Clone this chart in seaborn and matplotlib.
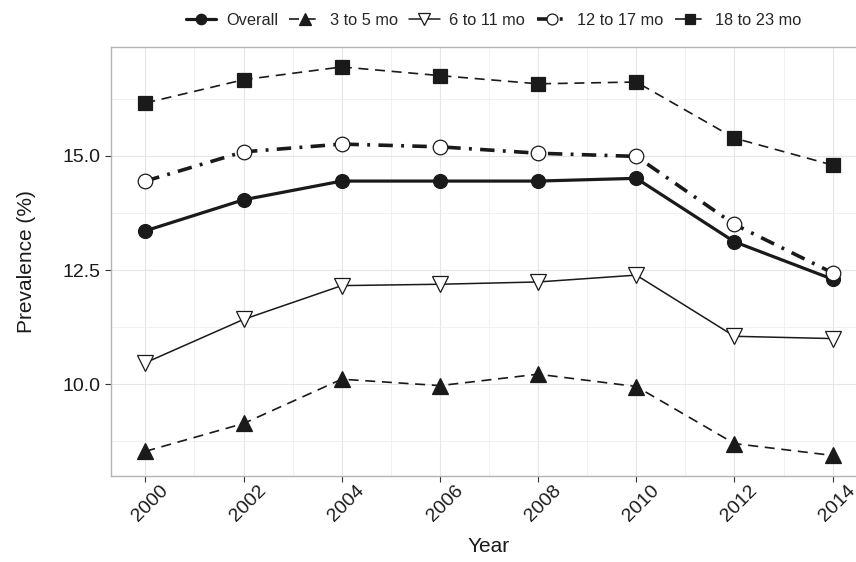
import numpy as np
import pandas as pd
import matplotlib
matplotlib.use("Agg")
import matplotlib.pyplot as plt
import matplotlib.transforms as mtransforms
import seaborn as sns

# ── data ─────────────────────────────────────────────────────
years = [2000, 2002, 2004, 2006, 2008, 2010, 2012, 2014]
overall  = [13.36, 14.04, 14.45, 14.45, 14.45, 14.51, 13.12, 12.30]
mo_3_5   = [8.53, 9.14, 10.11, 9.97, 10.22, 9.95, 8.70, 8.44]
mo_6_11  = [10.47, 11.42, 12.16, 12.19, 12.24, 12.39, 11.05, 11.00]
mo_12_17 = [14.45, 15.09, 15.26, 15.20, 15.06, 14.99, 13.50, 12.44]
mo_18_23 = [16.16, 16.67, 16.95, 16.76, 16.58, 16.62, 15.39, 14.80]

series_names = ["Overall", "3 to 5 mo", "6 to 11 mo", "12 to 17 mo", "18 to 23 mo"]
series_vals = [overall, mo_3_5, mo_6_11, mo_12_17, mo_18_23]

df = pd.DataFrame({
    "Year": years * len(series_names),
    "Prevalence": np.concatenate(series_vals),
    "group": np.repeat(series_names, len(years)),
})

# ── styles ───────────────────────────────────────────────────
styles = {
    "Overall":     dict(lw=2.3, marker="o", mfc="#1a1a1a", ms=10, dashes=None),
    "3 to 5 mo":   dict(lw=1.2, marker="^", mfc="#1a1a1a", ms=11, dashes=(6, 4)),
    "6 to 11 mo":  dict(lw=1.1, marker="v", mfc="white", ms=11, dashes=None),
    "12 to 17 mo": dict(lw=2.6, marker="o", mfc="white", ms=10.5, dashes=(4, 2.3, 0.8, 2.3)),
    "18 to 23 mo": dict(lw=1.2, marker="s", mfc="#1a1a1a", ms=9.5, dashes=(6, 4)),
}

sns.set_theme(style="white")
plt.rcParams["font.family"] = ["Liberation Sans", "DejaVu Sans"]

fig = plt.figure(figsize=(8.56, 5.62), dpi=100)
ax = fig.add_axes([111 / 856, 1 - 476 / 562, 756 / 856, (476 - 47.3) / 562])

for name in series_names:
    st = styles[name]
    sub = df[df["group"] == name]
    kws = dict(color="#1a1a1a", linewidth=st["lw"], marker=st["marker"],
               markersize=st["ms"], markerfacecolor=st["mfc"],
               markeredgecolor="#1a1a1a", markeredgewidth=0.9)
    sns.lineplot(data=sub, x="Year", y="Prevalence", ax=ax, legend=False, **kws)
    line = ax.get_lines()[-1]
    if st["dashes"] is not None:
        line.set_dashes(st["dashes"])
    line.set_label(name)

ax.set_xlim(1999.3, 2014.7)
ax.set_ylim(7.99, 17.38)
ax.set_xticks(years)
ax.set_xticks(np.arange(2001, 2014, 2), minor=True)
ax.set_yticks([10.0, 12.5, 15.0])
ax.set_yticks([8.75, 11.25, 13.75, 16.25], minor=True)
ax.set_yticklabels(["10.0", "12.5", "15.0"])
ax.grid(True, which="major", color="#e6e6e6", lw=0.8)
ax.grid(True, which="minor", color="#efefef", lw=0.6)
ax.set_axisbelow(True)
for s in ax.spines.values():
    s.set_color("#b3b3b3")
    s.set_linewidth(1.0)

ax.tick_params(axis="both", which="major", length=4, width=0.8, color="#333333",
               labelsize=14, labelcolor="#1a1a1a", bottom=True, left=True)
ax.tick_params(axis="x", which="major", pad=0)
ax.tick_params(axis="both", which="minor", length=0)
shift = mtransforms.ScaledTranslation(5 / 100, 0, fig.dpi_scale_trans)
for lab in ax.get_xticklabels():
    lab.set_rotation(45)
    lab.set_ha("center")
    lab.set_va("top")
    lab.set_transform(lab.get_transform() + shift)

ax.set_xlabel("Year", fontsize=15, color="#1a1a1a", labelpad=9)
ax.set_ylabel("Prevalence (%)", fontsize=15, color="#1a1a1a", labelpad=19)

handles, labels = ax.get_legend_handles_labels()
fig.legend(handles, labels, loc="center", bbox_to_anchor=(0.5765, 0.964),
           ncol=5, frameon=False, fontsize=11.8, handlelength=1.85,
           handletextpad=0.6, columnspacing=0.7, markerscale=0.75)

plt.savefig("out.png", dpi=100)
plt.close()
